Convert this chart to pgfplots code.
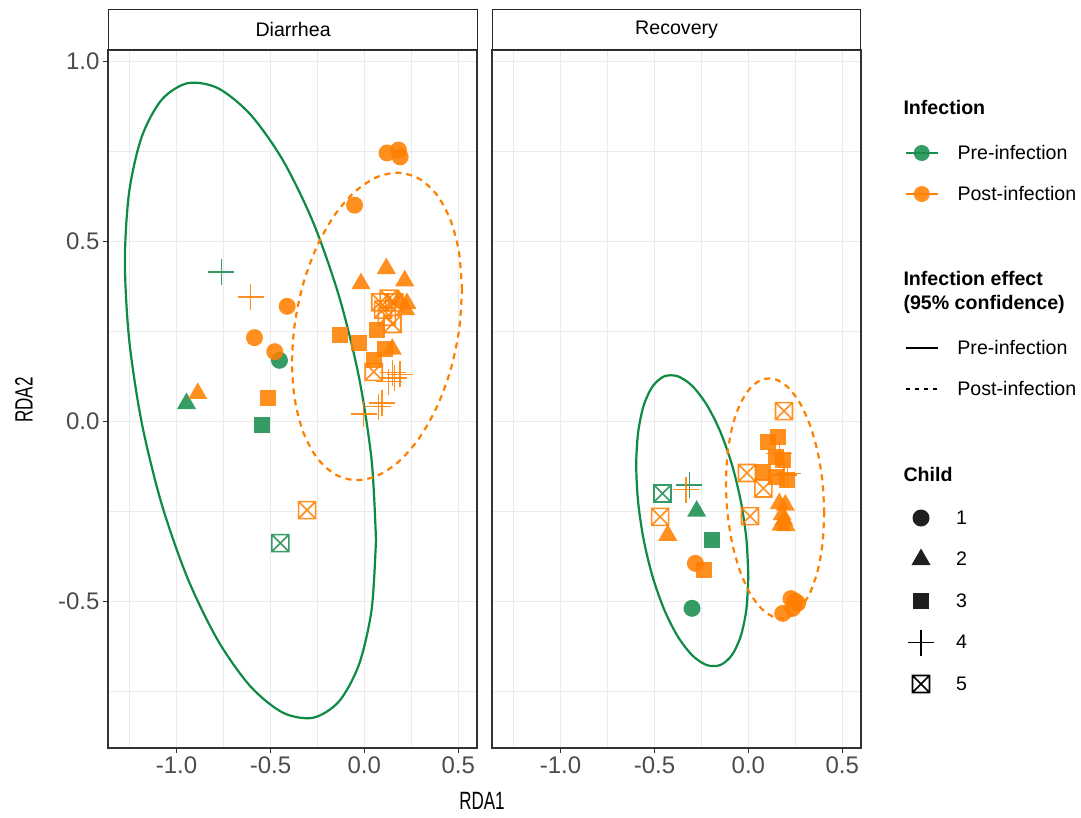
\documentclass[border=0pt]{standalone}
\usepackage{pgfplots}
\pgfplotsset{compat=1.18}
\usepackage{fontspec}
\setmainfont{Liberation Sans}
\definecolor{grn}{HTML}{1A8E50}
\definecolor{grnl}{HTML}{0E8A45}
\definecolor{orng}{HTML}{FF7F00}
\definecolor{gridc}{HTML}{EBEBEB}

\pgfdeclareplotmark{boxx}{%
  \pgfpathrectangle{\pgfpoint{-\pgfplotmarksize}{-\pgfplotmarksize}}{\pgfpoint{2\pgfplotmarksize}{2\pgfplotmarksize}}%
  \pgfpathmoveto{\pgfpoint{-\pgfplotmarksize}{-\pgfplotmarksize}}\pgfpathlineto{\pgfpoint{\pgfplotmarksize}{\pgfplotmarksize}}%
  \pgfpathmoveto{\pgfpoint{-\pgfplotmarksize}{\pgfplotmarksize}}\pgfpathlineto{\pgfpoint{\pgfplotmarksize}{-\pgfplotmarksize}}%
  \pgfusepathqstroke}

\pgfplotsset{
  panel/.style={
    scale only axis, width=369pt, height=698pt,
    xmin=-1.365, xmax=0.6, ymin=-0.908, ymax=1.031,
    axis line style={draw=black!80, line width=1.1pt},
    tick style={draw=black!80, line width=1.1pt},
    major tick length=5pt, minor tick length=0pt,
    tick align=outside,
    xtick={-1,-0.5,0,0.5}, xticklabels={-1.0,-0.5,0.0,0.5},
    minor xtick={-1.25,-0.75,-0.25,0.25},
    ytick={-0.5,0,0.5,1}, yticklabels={-0.5,0.0,0.5,1.0},
    minor ytick={-0.75,-0.25,0.25,0.75},
    grid=both,
    major grid style={draw=gridc, line width=1.1pt},
    minor grid style={draw=gridc, line width=0.55pt},
    xtick pos=lower, ytick pos=left,
    ticklabel style={font=\fontsize{24}{24}\selectfont, text=black!70},
  },
  gp/.style={only marks, mark=*, mark size=8.5, mark options={solid, fill=#1, draw=#1, fill opacity=0.88, draw opacity=0}},
  gt/.style={only marks, mark=triangle*, mark size=11, mark options={solid, fill=#1, draw=#1, fill opacity=0.88, draw opacity=0}},
  gs/.style={only marks, mark=square*, mark size=8, mark options={solid, fill=#1, draw=#1, fill opacity=0.88, draw opacity=0}},
  gx/.style={only marks, mark=+, mark size=13, mark options={solid, draw=#1, draw opacity=0.88, line width=1.5pt}},
  gb/.style={only marks, mark=boxx, mark size=8.5, mark options={solid, draw=#1, draw opacity=0.88, line width=1.6pt}},
  ell/.style={no markers, smooth, line width=2.2pt, draw=#1},
  legbox/.style={hide axis, scale only axis, width=150pt, height=60pt, xmin=0, xmax=1, ymin=0, ymax=1, anchor=north west,
    legend style={at={(0,1)}, anchor=north west, draw=none, fill=none, inner sep=0pt, outer sep=0pt, row sep=0pt, column sep=19pt,
      font=\fontsize{19.6}{23.5}\selectfont, nodes={inner sep=0pt, minimum height=#1, anchor=west}},
    legend cell align=left,
  },
  legline/.style={legend image code/.code={\path[draw=none, fill=none] (0pt,0pt) -- (32pt,0pt); \draw[mark repeat=2, mark phase=2, ##1] plot coordinates {(0pt,0pt) (16pt,0pt) (32pt,0pt)};}},
  legmark/.style={legend image code/.code={\path[draw=none, fill=none] (0pt,0pt) -- (32pt,0pt); \draw[##1] plot coordinates {(16pt,0pt)};}},
}

\begin{document}
\begin{tikzpicture}
\useasboundingbox (0pt,0pt) rectangle (1081pt,-817pt);

% ---------------- Diarrhea ----------------
\begin{axis}[panel, at={(108pt,-748pt)}, anchor=south west]
\addplot[ell=grnl] coordinates {(0.062,-0.3295) (0.0392,-0.1107) (-0.0276,0.1196) (-0.1338,0.3455) (-0.2722,0.5519) (-0.4335,0.7245) (-0.6065,0.8518) (-0.7795,0.9249) (-0.9408,0.9389) (-1.0792,0.8929) (-1.1854,0.7898) (-1.2522,0.6369) (-1.275,0.4445) (-1.2522,0.2257) (-1.1854,-0.0046) (-1.0792,-0.2305) (-0.9408,-0.4369) (-0.7795,-0.6095) (-0.6065,-0.7368) (-0.4335,-0.8099) (-0.2722,-0.8239) (-0.1338,-0.7779) (-0.0276,-0.6748) (0.0392,-0.5219) (0.062,-0.3295)};
\addplot[ell=orng, dash pattern=on 6pt off 5pt] coordinates {(0.52,0.3638) (0.5046,0.4678) (0.4594,0.5578) (0.3875,0.6277) (0.2938,0.6728) (0.1846,0.6899) (0.0675,0.678) (-0.0496,0.6377) (-0.1588,0.572) (-0.2525,0.4851) (-0.3244,0.3832) (-0.3696,0.273) (-0.385,0.1622) (-0.3696,0.0582) (-0.3244,-0.0318) (-0.2525,-0.1017) (-0.1588,-0.1468) (-0.0496,-0.1639) (0.0675,-0.152) (0.1846,-0.1117) (0.2938,-0.046) (0.3875,0.0409) (0.4594,0.1428) (0.5046,0.253) (0.52,0.3638)};
% pre-infection
\addplot[gp=grn] coordinates {(-0.452,0.169)};
\addplot[gt=grn] coordinates {(-0.947,0.049)};
\addplot[gs=grn] coordinates {(-0.543,-0.011)};
\addplot[gx=grn] coordinates {(-0.761,0.414)};
\addplot[gb=grn] coordinates {(-0.447,-0.339)};
% post-infection
\addplot[gp=orng] coordinates {(0.121,0.745) (0.182,0.753) (0.191,0.734) (-0.052,0.600) (-0.411,0.319) (-0.585,0.232) (-0.477,0.193)};
\addplot[gt=orng] coordinates {(-0.887,0.077) (0.117,0.424) (-0.018,0.382) (0.215,0.390) (0.183,0.336) (0.227,0.327) (0.220,0.310) (0.149,0.200)};
\addplot[gs=orng] coordinates {(-0.514,0.063) (-0.131,0.239) (-0.030,0.216) (0.067,0.253) (0.050,0.169) (0.110,0.200)};
\addplot[gx=orng] coordinates {(-0.606,0.345) (-0.004,0.020) (0.075,0.040) (0.095,0.050) (0.130,0.110) (0.150,0.135) (0.190,0.130) (0.160,0.120)};
\addplot[gb=orng] coordinates {(-0.305,-0.247) (0.085,0.330) (0.130,0.340) (0.160,0.330) (0.120,0.290) (0.150,0.270) (0.050,0.137) (0.100,0.310)};
\end{axis}

% ---------------- Recovery ----------------
\begin{axis}[panel, at={(492pt,-748pt)}, anchor=south west, yticklabels={}, ytick style={draw=none}]
\addplot[ell=grnl] coordinates {(0,-0.4302) (-0.0102,-0.3282) (-0.04,-0.2225) (-0.0874,-0.1206) (-0.1492,-0.0293) (-0.2212,0.0451) (-0.2985,0.0977) (-0.3758,0.1247) (-0.4478,0.1245) (-0.5096,0.0968) (-0.557,0.0437) (-0.5868,-0.0312) (-0.597,-0.1228) (-0.5868,-0.2248) (-0.557,-0.3305) (-0.5096,-0.4324) (-0.4478,-0.5237) (-0.3758,-0.5981) (-0.2985,-0.6507) (-0.2212,-0.6777) (-0.1492,-0.6775) (-0.0874,-0.6498) (-0.04,-0.5967) (-0.0102,-0.5218) (0,-0.4302)};
\addplot[ell=orng, dash pattern=on 6pt off 5pt] coordinates {(0.404,-0.2559) (0.3951,-0.1689) (0.369,-0.0849) (0.3274,-0.0098) (0.2733,0.0514) (0.2102,0.0944) (0.1425,0.1164) (0.0748,0.1158) (0.0117,0.0928) (-0.0424,0.0488) (-0.084,-0.0131) (-0.1101,-0.0889) (-0.119,-0.1731) (-0.1101,-0.2601) (-0.084,-0.3441) (-0.0424,-0.4192) (0.0117,-0.4804) (0.0748,-0.5234) (0.1425,-0.5454) (0.2102,-0.5448) (0.2733,-0.5218) (0.3274,-0.4778) (0.369,-0.4159) (0.3951,-0.3401) (0.404,-0.2559)};
\addplot[gp=grn] coordinates {(-0.300,-0.520)};
\addplot[gt=grn] coordinates {(-0.275,-0.250)};
\addplot[gs=grn] coordinates {(-0.193,-0.329)};
\addplot[gx=grn] coordinates {(-0.314,-0.178)};
\addplot[gb=grn] coordinates {(-0.457,-0.201)};
\addplot[gp=orng] coordinates {(-0.282,-0.395) (0.227,-0.493) (0.262,-0.506) (0.236,-0.520) (0.183,-0.534) (0.250,-0.500)};
\addplot[gt=orng] coordinates {(-0.429,-0.317) (0.165,-0.229) (0.197,-0.233) (0.180,-0.260) (0.190,-0.275) (0.174,-0.289) (0.200,-0.290)};
\addplot[gs=orng] coordinates {(-0.234,-0.414) (0.103,-0.057) (0.156,-0.044) (0.147,-0.099) (0.183,-0.108) (0.076,-0.141) (0.147,-0.155) (0.206,-0.164)};
\addplot[gx=orng] coordinates {(-0.331,-0.190) (0.165,-0.090) (0.209,-0.145) (0.190,-0.150)};
\addplot[gb=orng] coordinates {(-0.470,-0.266) (0.009,-0.264) (-0.007,-0.144) (0.190,0.028) (0.080,-0.187)};
\end{axis}

% strips
\node[draw=black!85, line width=1.2pt, fill=white, minimum width=369pt, minimum height=40pt, inner sep=0pt, anchor=south west, font=\fontsize{19.6}{23}\selectfont] at (108pt,-50pt) {\raisebox{-2pt}{Diarrhea}};
\node[draw=black!85, line width=1.2pt, fill=white, minimum width=368pt, minimum height=40pt, inner sep=0pt, anchor=south west, font=\fontsize{19.6}{23}\selectfont] at (492pt,-50pt) {\raisebox{-2pt}{Recovery}};

% axis titles
\node[font=\fontsize{25}{26}\selectfont] at (482pt,-801pt) {\scalebox{0.68}[1]{RDA1}};
\node[font=\fontsize{25}{26}\selectfont, rotate=90] at (24pt,-400pt) {\scalebox{0.68}[1]{RDA2}};

% legend titles
\node[anchor=base west, font=\bfseries\fontsize{19.6}{23}\selectfont] at (900pt,-114pt) {Infection};
\node[anchor=base west, font=\bfseries\fontsize{19.6}{23}\selectfont] at (900pt,-285pt) {Infection effect};
\node[anchor=base west, font=\bfseries\fontsize{19.6}{23}\selectfont] at (900pt,-309pt) {(95\% confidence)};
\node[anchor=base west, font=\bfseries\fontsize{19.6}{23}\selectfont] at (900pt,-481pt) {Child};

\begin{axis}[legbox=41pt, legline, at={(905pt,-132.5pt)}]
\addlegendimage{grn, line width=1.5pt, mark=*, mark size=8, mark options={solid, fill=grn, draw opacity=0, fill opacity=0.88}}
\addlegendentry{Pre-infection}
\addlegendimage{orng, line width=1.5pt, mark=*, mark size=8, mark options={solid, fill=orng, draw opacity=0, fill opacity=0.88}}
\addlegendentry{Post-infection}
\end{axis}

\begin{axis}[legbox=41pt, legline, at={(905pt,-327.5pt)}]
\addlegendimage{black, line width=1.4pt}
\addlegendentry{Pre-infection}
\addlegendimage{black, line width=1.4pt, dash pattern=on 4pt off 5pt}
\addlegendentry{Post-infection}
\end{axis}

\begin{axis}[legbox=41.5pt, legmark, at={(905pt,-497.25pt)}]
\addlegendimage{legmark, black, mark=*, mark size=8.5, mark options={solid, fill=black, draw opacity=0, fill opacity=0.88}}
\addlegendentry{1}
\addlegendimage{legmark, black, mark=triangle*, mark size=11, mark options={solid, fill=black, draw opacity=0, fill opacity=0.88}}
\addlegendentry{2}
\addlegendimage{legmark, black, mark=square*, mark size=8, mark options={solid, fill=black, draw opacity=0, fill opacity=0.88}}
\addlegendentry{3}
\addlegendimage{legmark, black, mark=+, mark size=13, mark options={solid, line width=1.5pt}}
\addlegendentry{4}
\addlegendimage{legmark, black, mark=boxx, mark size=8.5, mark options={solid, line width=1.6pt}}
\addlegendentry{5}
\end{axis}
\end{tikzpicture}
\end{document}
